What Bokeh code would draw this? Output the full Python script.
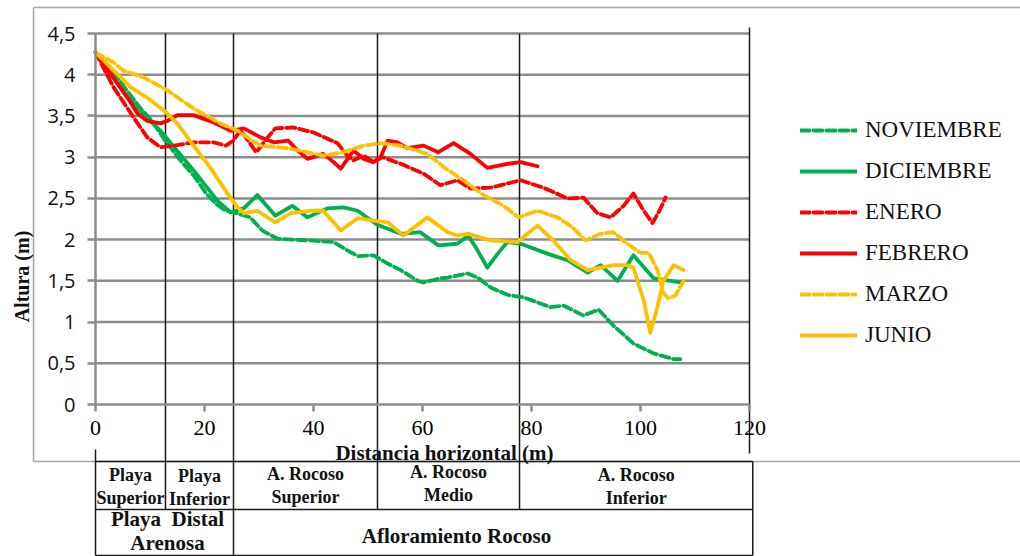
from bokeh.plotting import figure
from bokeh.models import Range1d, LinearAxis, FixedTicker, Legend, LegendItem, Label
from bokeh.embed import file_html
from bokeh.resources import INLINE
from bokeh.core.properties import value
import math

# ---------------- data ----------------
nov_x = [0, 2.8, 5.5, 8.3, 10.6, 12.8, 15.6, 18.0, 20.2, 22.0, 23.9, 25.3, 28.4, 30.6, 33.4, 39.4, 43.7, 46.2, 48.1, 51.0,
         53.6, 56.0, 59.1, 60.2, 63.3, 64.6, 68.3, 70.1, 72.5, 75.6, 78.5, 83.5, 85.9, 89.5, 92.3, 95.0, 98.7, 102.4, 106.1, 107.3]
nov_y = [4.27, 4.08, 3.83, 3.59, 3.42, 3.20, 2.96, 2.78, 2.57, 2.44, 2.35, 2.33, 2.27, 2.11, 2.01, 1.99, 1.97, 1.87, 1.80, 1.81,
         1.71, 1.63, 1.50, 1.48, 1.53, 1.54, 1.59, 1.54, 1.42, 1.33, 1.30, 1.18, 1.20, 1.08, 1.15, 0.96, 0.74, 0.62, 0.55, 0.55]

dic_x = [0, 5.9, 11.9, 18.0, 22.4, 24.8, 27.2, 29.7, 33.0, 36.1, 38.9, 42.6, 45.5, 48.1, 51.7, 56.0, 59.6, 62.9, 66.4, 68.4,
         70.1, 71.9, 73.8, 75.6, 78.0, 82.9, 86.6, 90.3, 92.7, 95.8, 98.7, 102.4, 105.5, 107.3]
dic_y = [4.27, 3.72, 3.32, 2.84, 2.47, 2.33, 2.38, 2.54, 2.29, 2.41, 2.27, 2.38, 2.39, 2.35, 2.18, 2.07, 2.09, 1.93, 1.95, 2.05,
         1.87, 1.66, 1.83, 1.97, 1.95, 1.83, 1.75, 1.60, 1.69, 1.50, 1.81, 1.53, 1.50, 1.48]

ene_x = [0, 3.3, 7.0, 9.5, 11.9, 14.3, 18.0, 21.7, 23.9, 25.3, 26.6, 29.5, 31.6, 33.0, 36.3, 40.0, 44.4, 46.2, 47.3, 49.2,
         51.0, 52.7, 56.0, 60.2, 63.3, 66.4, 68.8, 72.5, 78.0, 82.2, 86.6, 89.5, 92.1, 94.5, 96.9, 98.7, 100.6, 102.2, 103.7, 104.6]
ene_y = [4.27, 3.85, 3.48, 3.24, 3.12, 3.14, 3.18, 3.18, 3.14, 3.20, 3.33, 3.06, 3.24, 3.35, 3.36, 3.30, 3.17, 3.02, 2.96, 3.02,
         2.94, 3.00, 2.92, 2.80, 2.66, 2.72, 2.62, 2.63, 2.72, 2.63, 2.50, 2.51, 2.32, 2.27, 2.41, 2.56, 2.35, 2.20, 2.38, 2.51]

feb_x = [0, 5.9, 7.7, 9.5, 11.9, 13.2, 15.0, 18.0, 21.7, 24.8, 27.2, 30.3, 32.7, 35.4, 37.1, 38.9, 41.8, 43.7, 45.0, 47.3,
         49.2, 51.0, 52.3, 53.6, 55.4, 57.2, 60.2, 62.9, 65.7, 68.8, 71.9, 75.6, 78.0, 81.1]
feb_y = [4.27, 3.72, 3.53, 3.44, 3.41, 3.44, 3.51, 3.51, 3.42, 3.32, 3.35, 3.24, 3.18, 3.20, 3.08, 2.98, 3.04, 2.94, 2.86, 3.08,
         2.98, 2.94, 3.00, 3.20, 3.18, 3.11, 3.14, 3.06, 3.17, 3.04, 2.87, 2.92, 2.94, 2.89]

mar_x = [0, 3.3, 5.1, 8.8, 13.2, 18.0, 22.9, 26.1, 27.9, 30.3, 35.2, 41.8, 45.5, 49.2, 52.3, 56.0, 60.9, 63.9, 67.5, 71.2,
         74.9, 77.6, 81.1, 84.8, 87.5, 89.9, 92.7, 95.0, 97.6, 100.0, 101.5, 103.1, 104.2, 105.1, 106.4, 107.9]
mar_y = [4.27, 4.15, 4.05, 3.97, 3.81, 3.59, 3.41, 3.32, 3.24, 3.14, 3.11, 3.02, 3.06, 3.14, 3.17, 3.14, 3.04, 2.88, 2.72, 2.54,
         2.41, 2.27, 2.35, 2.27, 2.15, 1.99, 2.07, 2.09, 1.95, 1.84, 1.84, 1.63, 1.35, 1.29, 1.32, 1.50]

jun_x = [0, 4.6, 6.4, 9.5, 12.5, 15.0, 18.0, 21.1, 24.2, 26.1, 27.2, 29.7, 33.0, 35.8, 39.4, 41.8, 45.0, 48.1, 51.0, 53.6,
         56.5, 60.9, 64.6, 66.4, 68.4, 72.5, 77.4, 81.1, 84.0, 87.2, 90.3, 95.0, 97.6, 98.7, 100.6, 101.8, 103.1, 104.2, 106.1, 107.9]
jun_y = [4.27, 3.97, 3.85, 3.72, 3.57, 3.41, 3.14, 2.87, 2.56, 2.39, 2.32, 2.35, 2.21, 2.32, 2.35, 2.35, 2.11, 2.26, 2.23, 2.21,
         2.05, 2.27, 2.09, 2.05, 2.07, 1.99, 1.97, 2.17, 1.99, 1.75, 1.63, 1.69, 1.69, 1.66, 1.26, 0.87, 1.18, 1.50, 1.69, 1.63]

series_names = ["NOVIEMBRE", "DICIEMBRE", "ENERO", "FEBRERO", "MARZO", "JUNIO"]

x_ticks = [0, 20, 40, 60, 80, 100, 120]
y_ticks = [0, 0.5, 1, 1.5, 2, 2.5, 3, 3.5, 4, 4.5]
y_tick_labels = ["0", "0,5", "1", "1,5", "2", "2,5", "3", "3,5", "4", "4,5"]

zone_bounds = [12.84, 25.32, 51.74, 77.80]
zone_row1 = ["Playa\nSuperior", "Playa\nInferior", "A. Rocoso\nSuperior", "A. Rocoso\nMedio", "A. Rocoso\nInferior"]
zone_row2 = ["Playa\u00a0\u00a0Distal\nArenosa", "Afloramiento Rocoso"]

# ---------------- layout helpers (canvas pixels -> data) ----------------
X0, SX = 95.0, 5.45      # canvas x of data 0, px per unit
Y0, SY = 404.0, 82.44    # canvas y of data 0, px per unit
def X(px): return (px - X0) / SX
def Y(py): return (Y0 - py) / SY

W, H = 1020, 556
p = figure(width=W, height=H, x_range=Range1d(X(0), X(W)), y_range=Range1d(Y(H), Y(0)),
           output_backend="svg", toolbar_location=None, x_axis_location=None, y_axis_location=None,
           min_border=0, min_border_left=0, min_border_right=0, min_border_top=0, min_border_bottom=0)
p.outline_line_color = None
p.background_fill_color = "white"
p.border_fill_color = "white"
p.grid.visible = False

GRAY = "#8c8c8c"
BLACK = "#1a1a1a"

# outer gray frame (top, left, bottom)
p.segment(x0=[X(33), X(33), X(33)], y0=[Y(7), Y(7), Y(461)], x1=[X(W), X(33), X(W)], y1=[Y(7), Y(461), Y(461)],
          line_color="#a6a6a6", line_width=1.5)

# horizontal gridlines
gl = [t for t in y_ticks if t > 0]
p.segment(x0=[0] * len(gl), x1=[120] * len(gl), y0=gl, y1=gl, line_color=GRAY, line_width=2.5)

# axes
xaxis = LinearAxis(fixed_location=0, bounds=(0, 120), ticker=FixedTicker(ticks=x_ticks, minor_ticks=[]))
xaxis.axis_line_color = GRAY
xaxis.axis_line_width = 2.5
xaxis.major_tick_line_color = GRAY
xaxis.major_tick_line_width = 2.5
xaxis.major_tick_out = 7
xaxis.major_tick_in = 0
xaxis.minor_tick_out = 0
xaxis.major_label_standoff = 9
xaxis.major_label_text_font = "Liberation Serif"
xaxis.major_label_text_font_size = "22px"
xaxis.major_label_text_color = "black"
p.add_layout(xaxis, "below")

yaxis = LinearAxis(fixed_location=0, bounds=(0, 4.5), ticker=FixedTicker(ticks=y_ticks, minor_ticks=[]))
yaxis.major_label_overrides = {float(t): s for t, s in zip(y_ticks, y_tick_labels)}
yaxis.axis_line_color = GRAY
yaxis.axis_line_width = 2.5
yaxis.major_tick_line_color = GRAY
yaxis.major_tick_line_width = 2.5
yaxis.major_tick_out = 8
yaxis.major_tick_in = 0
yaxis.minor_tick_out = 0
yaxis.major_label_standoff = 12
yaxis.major_label_text_font = "Open Sans"
yaxis.major_label_text_font_size = "20px"
yaxis.major_label_text_color = "#111111"
p.add_layout(yaxis, "left")

# zone separators (vertical black lines)
ROW1_TOP, ROW1_BOT, ROW2_BOT = 461, 509, 555
long_idx = 1
vx0, vy0, vx1, vy1 = [], [], [], []
for i, b in enumerate(zone_bounds):
    vx0.append(b); vx1.append(b); vy0.append(4.5)
    vy1.append(Y(ROW2_BOT) if i == long_idx else Y(ROW1_BOT))
vx0 += [120, 0, 120.6]; vx1 += [120, 0, 120.6]
vy0 += [Y(27), Y(449), Y(ROW1_TOP)]; vy1 += [Y(453), Y(ROW2_BOT), Y(ROW2_BOT)]
for py in (ROW1_TOP, ROW1_BOT, ROW2_BOT):
    vx0.append(0); vx1.append(120.6); vy0.append(Y(py)); vy1.append(Y(py))
p.segment(x0=vx0, y0=vy0, x1=vx1, y1=vy1, line_color=BLACK, line_width=1.5)

# table texts
edges1 = [0] + zone_bounds + [120.6]
cx1 = [(edges1[i] + edges1[i + 1]) / 2 for i in range(len(zone_row1))]
cy1 = [Y(486), Y(487), Y(485), Y(483), Y(486)]
p.text(x=cx1, y=cy1, text=zone_row1, text_font=value("Liberation Serif"), text_font_style="bold",
       text_font_size="18px", text_align="center", text_baseline="middle", text_line_height=1.15, text_color="#111111")
cx2 = [X(167), X(456)]
cy2 = [Y(530), Y(535)]
p.text(x=cx2, y=cy2, text=zone_row2, text_font=value("Liberation Serif"), text_font_style="bold",
       text_font_size="21px", text_align="center", text_baseline="middle", text_line_height=1.0, text_color="#111111")

# axis titles
p.add_layout(Label(x=X(444), y=Y(452), text="Distancia horizontal (m)", text_font="Liberation Serif",
                   text_font_style="bold", text_font_size="21px", text_align="center", text_baseline="middle",
                   text_color="#111111"))
p.add_layout(Label(x=X(21), y=Y(276), text="Altura (m)", text_font="Liberation Serif", angle=math.pi / 2,
                   text_font_style="bold", text_font_size="20px", text_align="center", text_baseline="middle",
                   text_color="#111111"))

# series
GREEN, RED, YELLOW = "#00B050", "#FF0000", "#FFC000"
DASH = "9 4"
styles = [
    (nov_x, nov_y, GREEN, DASH), (dic_x, dic_y, GREEN, "solid"),
    (ene_x, ene_y, RED, DASH), (feb_x, feb_y, RED, "solid"),
    (mar_x, mar_y, YELLOW, DASH), (jun_x, jun_y, YELLOW, "solid"),
]
items = []
for name, (xs, ys, col, dash) in zip(series_names, styles):
    r = p.line(xs, ys, line_color=col, line_width=3.8, line_dash=dash, line_cap="round", line_join="round")
    items.append(LegendItem(label=name, renderers=[r]))

# legend: first row centred at canvas y=130, 41 px per row; glyphs from x=800
legend = Legend(items=items, location=(800, 556 - (117 + 231)), glyph_width=57, glyph_height=26, label_height=26,
                label_standoff=8, spacing=15, padding=0, margin=0, border_line_color=None,
                background_fill_alpha=0, label_text_font="Liberation Serif", label_text_font_size="23px",
                label_text_color="#111111")
p.add_layout(legend)

open("out.html", "w").write(file_html(p, INLINE))
